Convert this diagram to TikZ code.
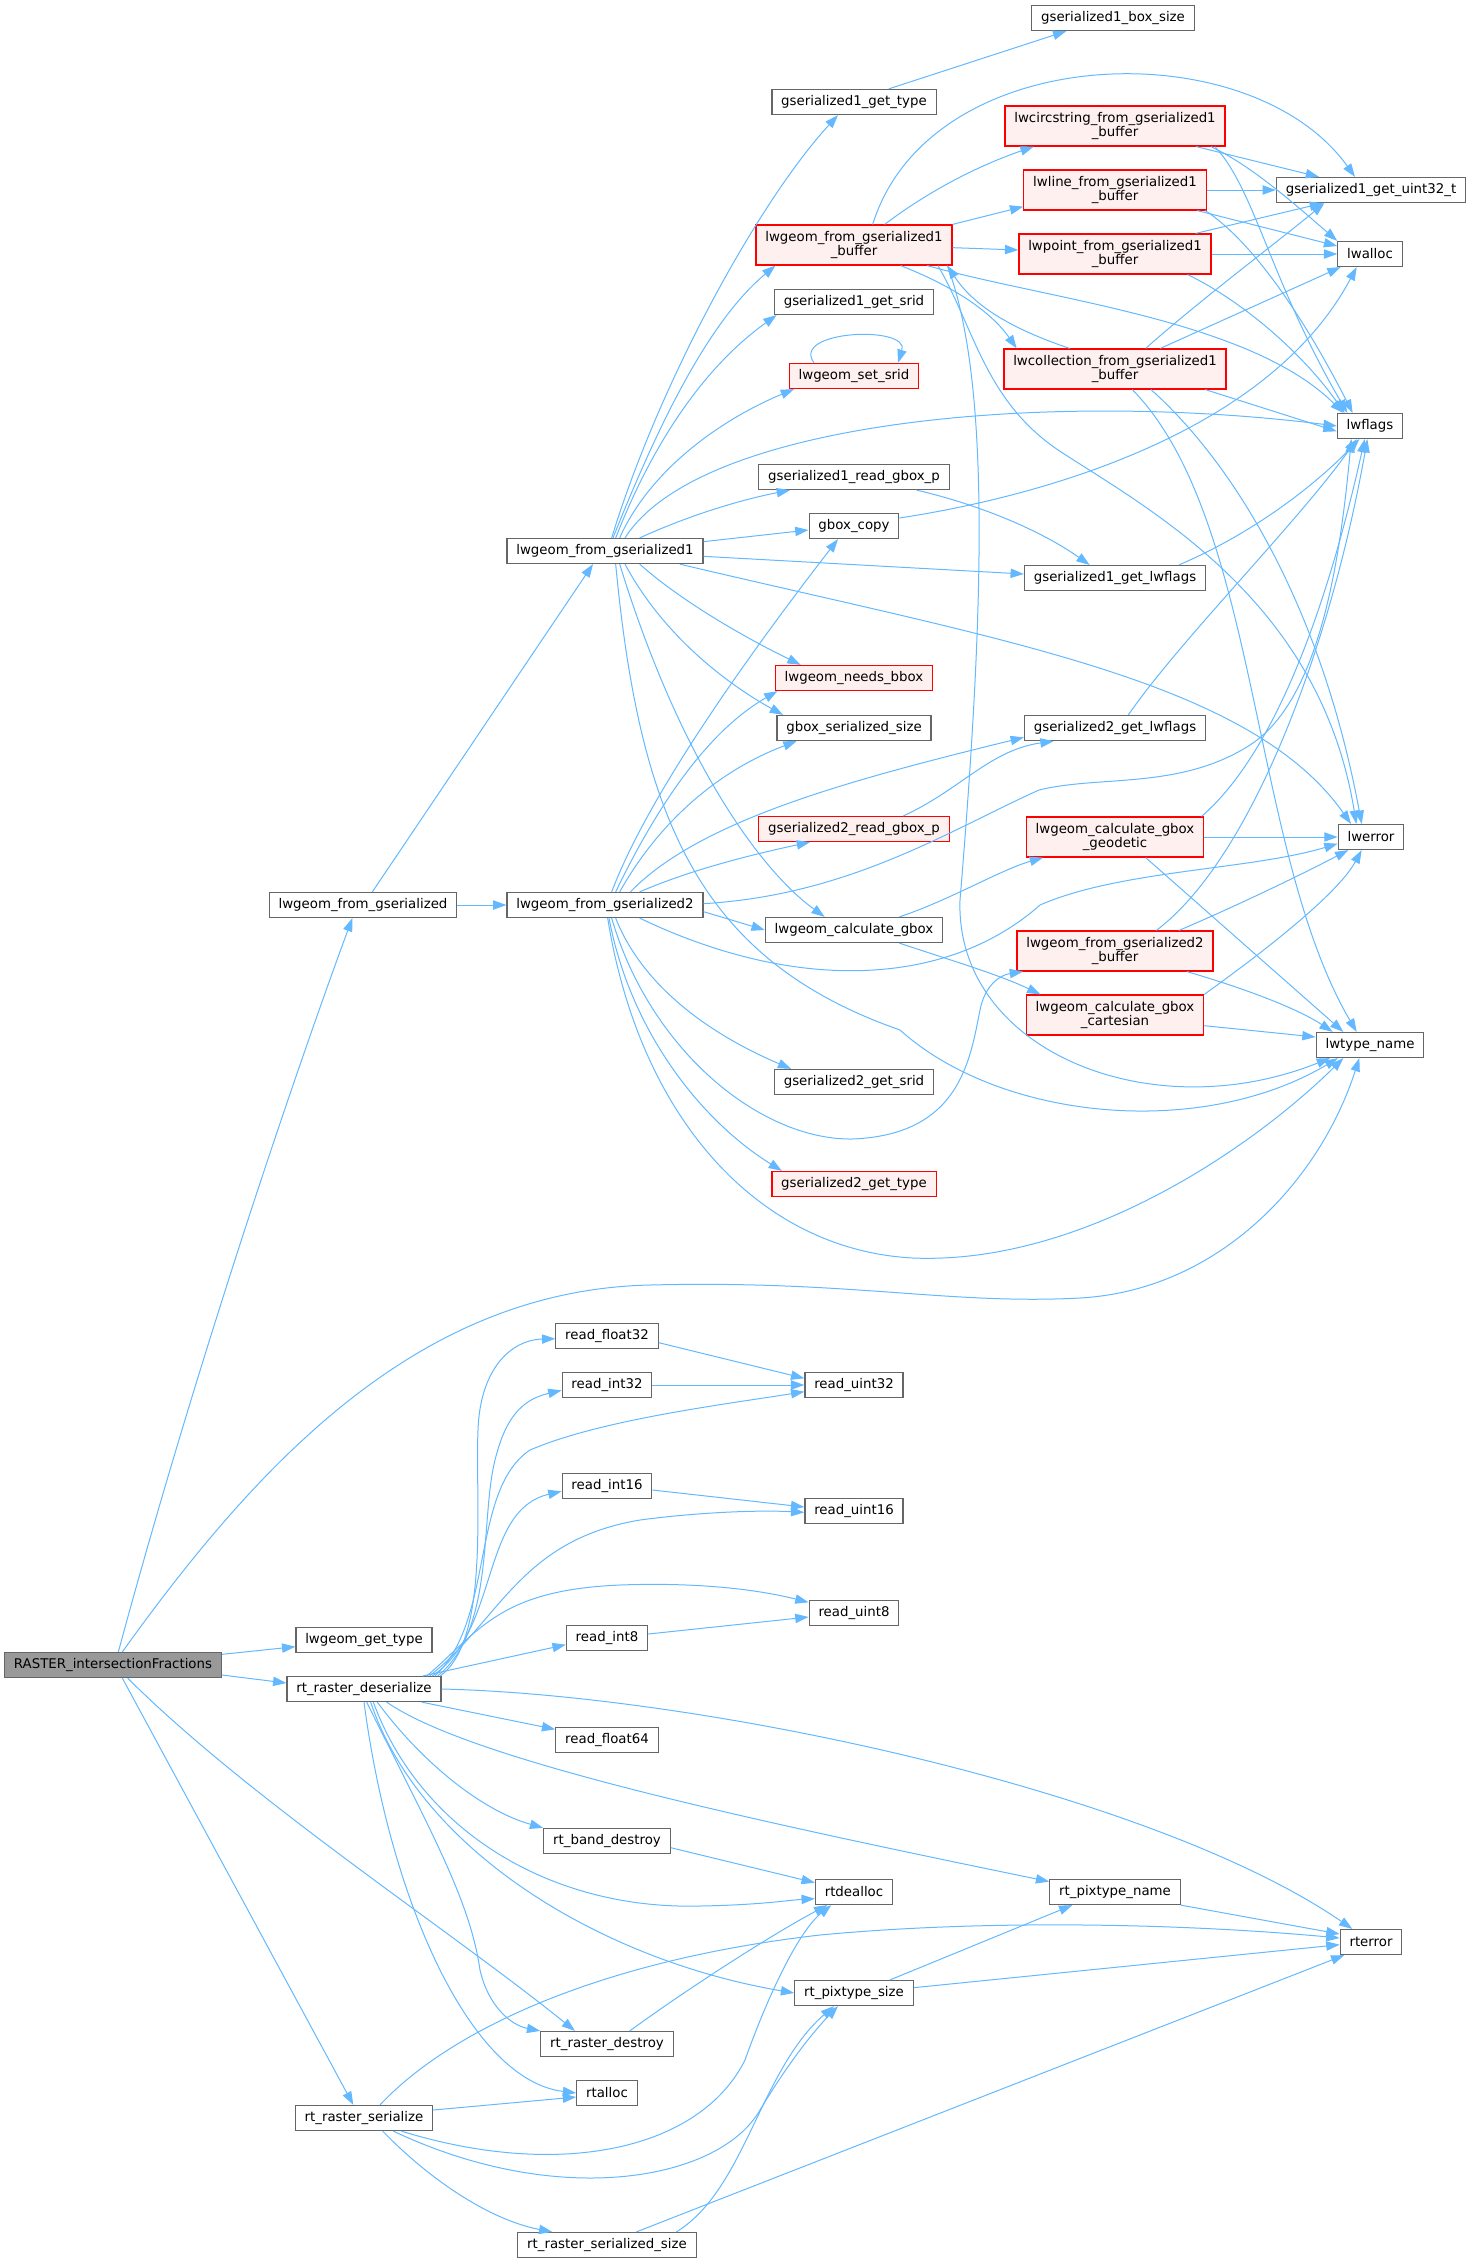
\documentclass[tikz,border=0pt]{standalone}
\usepackage{fontspec}
\setmainfont{DejaVu Sans}
\usetikzlibrary{arrows.meta}
\definecolor{edgeblue}{HTML}{63B8FF}
\definecolor{boxgray}{HTML}{666666}
\definecolor{redfill}{HTML}{FFF0F0}
\definecolor{rootgray}{HTML}{999999}
\begin{document}
\begin{tikzpicture}[x=0.75pt,y=-0.75pt,
  fn/.style={draw=boxgray,fill=white,line width=0.9pt,inner xsep=7pt,inner ysep=2pt,
    minimum height=18.75pt,font=\fontsize{10}{11}\selectfont},
  fnred/.style={fn,draw=red,fill=redfill},
  fnroot/.style={fn,fill=rootgray},
  twoline/.style={align=center,minimum height=30pt},
  call/.style={draw=edgeblue,line width=0.75pt,-{Triangle[length=10pt,width=7pt]}}]
  \useasboundingbox (0,0) rectangle (1468,2263);
  % callers
  \node[fnroot] (raster) at (113,1665) {RASTER\_intersectionFractions};
  \node[fn] (fromgs) at (363,905) {lwgeom\_from\_gserialized};
  \node[fn] (fromgs1) at (605,551) {lwgeom\_from\_gserialized1};
  \node[fn] (fromgs2) at (605,905) {lwgeom\_from\_gserialized2};
  % gserialized1 side
  \node[fn] (boxsize) at (1113,18) {gserialized1\_box\_size};
  \node[fn] (g1type) at (854,102) {gserialized1\_get\_type};
  \node[fnred,twoline] (circ) at (1115,126) {lwcircstring\_from\_gserialized1\\\_buffer};
  \node[fnred,twoline] (line) at (1115,190) {lwline\_from\_gserialized1\\\_buffer};
  \node[fn] (g1uint) at (1371,190) {gserialized1\_get\_uint32\_t};
  \node[fnred,twoline] (g1buf) at (854,245) {lwgeom\_from\_gserialized1\\\_buffer};
  \node[fnred,twoline] (point) at (1115,254) {lwpoint\_from\_gserialized1\\\_buffer};
  \node[fn] (lwalloc) at (1370,254) {lwalloc};
  \node[fn] (g1srid) at (854,302) {gserialized1\_get\_srid};
  \node[fnred,twoline] (coll) at (1115,369) {lwcollection\_from\_gserialized1\\\_buffer};
  \node[fnred] (setsrid) at (854,376) {lwgeom\_set\_srid};
  \node[fn] (lwflags) at (1370,426) {lwflags};
  \node[fn] (g1gbox) at (854,477) {gserialized1\_read\_gbox\_p};
  \node[fn] (gboxcopy) at (854,526) {gbox\_copy};
  \node[fn] (g1flags) at (1115,578) {gserialized1\_get\_lwflags};
  \node[fnred] (needsbbox) at (854,678) {lwgeom\_needs\_bbox};
  \node[fn] (gboxsize) at (854,728) {gbox\_serialized\_size};
  % gserialized2 side
  \node[fn] (g2flags) at (1115,728) {gserialized2\_get\_lwflags};
  \node[fnred] (g2gbox) at (854,829) {gserialized2\_read\_gbox\_p};
  \node[fnred,twoline] (geodetic) at (1115,837) {lwgeom\_calculate\_gbox\\\_geodetic};
  \node[fn] (lwerror) at (1371,837) {lwerror};
  \node[fn] (calcgbox) at (854,930) {lwgeom\_calculate\_gbox};
  \node[fnred,twoline] (g2buf) at (1115,951) {lwgeom\_from\_gserialized2\\\_buffer};
  \node[fnred,twoline] (cartesian) at (1115,1015) {lwgeom\_calculate\_gbox\\\_cartesian};
  \node[fn] (typename) at (1370,1045) {lwtype\_name};
  \node[fn] (g2srid) at (854,1082) {gserialized2\_get\_srid};
  \node[fnred] (g2type) at (854,1184) {gserialized2\_get\_type};
  % raster side
  \node[fn] (rf32) at (607,1336) {read\_float32};
  \node[fn] (ri32) at (607,1385) {read\_int32};
  \node[fn] (ru32) at (854,1385) {read\_uint32};
  \node[fn] (ri16) at (607,1486) {read\_int16};
  \node[fn] (ru16) at (854,1511) {read\_uint16};
  \node[fn] (ru8) at (854,1613) {read\_uint8};
  \node[fn] (ri8) at (607,1638) {read\_int8};
  \node[fn] (gettype) at (364,1640) {lwgeom\_get\_type};
  \node[fn] (deser) at (364,1689) {rt\_raster\_deserialize};
  \node[fn] (rf64) at (607,1740) {read\_float64};
  \node[fn] (banddestroy) at (607,1841) {rt\_band\_destroy};
  \node[fn] (rtdealloc) at (854,1892) {rtdealloc};
  \node[fn] (pixname) at (1115,1892) {rt\_pixtype\_name};
  \node[fn] (rterror) at (1371,1942) {rterror};
  \node[fn] (pixsize) at (854,1993) {rt\_pixtype\_size};
  \node[fn] (rdestroy) at (607,2044) {rt\_raster\_destroy};
  \node[fn] (rtalloc) at (607,2093) {rtalloc};
  \node[fn] (serialize) at (364,2118) {rt\_raster\_serialize};
  \node[fn] (sersize) at (607,2245) {rt\_raster\_serialized\_size};

  % RASTER_intersectionFractions
  \draw[call] ([xshift=4pt]raster.north) .. controls (200,1350) and (300,1060) .. ([xshift=-8pt]fromgs.south);
  \draw[call] ([xshift=7pt]raster.north) .. controls (260,1460) and (420,1290) .. (650,1285) .. controls (850,1280) and (950,1305) .. (1080,1298) .. controls (1220,1290) and (1320,1180) .. ([xshift=-8pt]typename.south);
  \draw[call] ([yshift=8pt]raster.east) -- ([yshift=-5pt]gettype.west);
  \draw[call] ([yshift=-7.5pt]raster.east) -- ([yshift=4.5pt]deser.west);
  \draw[call] ([xshift=11pt]raster.south) .. controls (250,1800) and (450,1930) .. ([xshift=-24pt]rdestroy.north);
  \draw[call] ([xshift=7pt]raster.south) -- ([xshift=-8pt]serialize.north);

  % lwgeom_from_gserialized
  \draw[call] (fromgs.east) -- (fromgs2.west);
  \draw[call] ([xshift=7pt]fromgs.north) -- ([xshift=-9pt]fromgs1.south);

  % lwgeom_from_gserialized1
  \draw[call] ([xshift=5pt]fromgs1.north) .. controls (660,380) and (760,200) .. ([xshift=-12pt]g1type.south);
  \draw[call] ([xshift=6pt]fromgs1.north) .. controls (660,420) and (710,320) .. ([xshift=15pt]g1buf.south west);
  \draw[call] ([xshift=8pt]fromgs1.north) .. controls (650,450) and (700,370) .. ([xshift=2pt]g1srid.south west);
  \draw[call] ([xshift=11pt]fromgs1.north) .. controls (650,470) and (720,420) .. ([xshift=4pt]setsrid.south west);
  \draw[call] ([xshift=15pt]fromgs1.north) .. controls (700,420) and (1050,390) .. (lwflags.west);
  \draw[call] ([xshift=26pt]fromgs1.north) .. controls (690,515) and (740,500) .. ([xshift=-48pt]g1gbox.south);
  \draw[call] ([yshift=7pt]fromgs1.east) -- ([yshift=-3pt]gboxcopy.west);
  \draw[call] ([yshift=-4pt]fromgs1.east) -- ([yshift=3pt]g1flags.west);
  \draw[call] ([xshift=56pt]fromgs1.south) .. controls (1000,640) and (1250,680) .. ([xshift=-15pt]lwerror.north);
  \draw[call] ([xshift=26pt]fromgs1.south) .. controls (680,600) and (740,635) .. ([xshift=-40pt]needsbbox.north);
  \draw[call] ([xshift=15pt]fromgs1.south) .. controls (660,630) and (720,680) .. ([xshift=5pt]gboxsize.north west);
  \draw[call] ([xshift=11pt]fromgs1.south) .. controls (680,760) and (760,870) .. ([xshift=-22pt]calcgbox.north);
  \draw[call] ([xshift=8pt]fromgs1.south) .. controls (640,820) and (700,960) .. (900,1030) .. controls (1000,1120) and (1200,1140) .. ([xshift=-24pt]typename.south);

  % lwgeom_from_gserialized2
  \draw[call] ([xshift=5pt]fromgs2.north) .. controls (650,790) and (760,640) .. ([xshift=-12pt]gboxcopy.south);
  \draw[call] ([xshift=8pt]fromgs2.north) .. controls (660,800) and (710,730) .. ([xshift=2pt]needsbbox.south west);
  \draw[call] ([xshift=11pt]fromgs2.north) .. controls (660,820) and (720,770) .. ([xshift=-43pt]gboxsize.south);
  \draw[call] ([xshift=19pt]fromgs2.north) .. controls (700,820) and (850,780) .. ([yshift=-7pt]g2flags.west);
  \draw[call] ([xshift=26pt]fromgs2.north) .. controls (690,870) and (750,855) .. ([xshift=-33pt]g2gbox.south);
  \draw[call] ([yshift=1pt]fromgs2.east) .. controls (850,895) and (950,830) .. (1039,790) .. controls (1100,775) and (1180,790) .. (1250,745) .. controls (1320,700) and (1340,560) .. ([xshift=-14pt]lwflags.south);
  \draw[call] ([xshift=26pt]fromgs2.south) .. controls (800,995) and (950,985) .. (1040,905) .. controls (1120,870) and (1250,870) .. ([yshift=-5pt]lwerror.west);
  \draw[call] ([yshift=-5pt]fromgs2.east) -- (calcgbox.west);
  \draw[call] ([xshift=5pt]fromgs2.south) .. controls (650,1050) and (760,1140) .. (852,1139) .. controls (960,1135) and (970,1060) .. (980,1010) .. controls (985,985) and (1000,975) .. ([xshift=5pt]g2buf.south west);
  \draw[call] ([xshift=8pt]fromgs2.south) .. controls (640,980) and (700,1030) .. ([xshift=13pt]g2srid.north west);
  \draw[call] ([xshift=3pt]fromgs2.south) .. controls (630,1030) and (700,1120) .. ([xshift=8pt]g2type.north west);
  \draw[call] ([xshift=2pt]fromgs2.south) .. controls (640,1120) and (760,1250) .. (913,1258) .. controls (1080,1265) and (1250,1150) .. ([xshift=-20pt]typename.south);

  % lwgeom_from_gserialized1_buffer
  \draw[call] ([xshift=26pt]g1type.north) -- ([xshift=-35pt]boxsize.south);
  \draw[call] ([xshift=14pt]g1buf.north) .. controls (930,40) and (1250,30) .. ([xshift=-12pt]g1uint.north);
  \draw[call] ([xshift=23pt]g1buf.north) .. controls (930,190) and (980,165) .. ([xshift=22pt]circ.south west);
  \draw[call] (g1buf.north east) -- ([yshift=3pt]line.south west);
  \draw[call] ([yshift=-2pt]g1buf.east) -- ([yshift=3pt]point.west);
  \draw[call] ([xshift=35pt]g1buf.south) .. controls (950,285) and (990,310) .. ([xshift=10pt]coll.north west);
  \draw[call] ([xshift=55pt]g1buf.south) .. controls (1050,300) and (1250,320) .. ([xshift=-20pt]lwflags.north);
  \draw[call] ([xshift=63pt]g1buf.south) .. controls (975,330) and (985,400) .. (1058,450) .. controls (1150,510) and (1320,600) .. ([xshift=-11pt]lwerror.north);
  \draw[call] ([xshift=70pt]g1buf.south) .. controls (990,380) and (985,600) .. (960,900) .. controls (955,1050) and (1150,1130) .. ([xshift=-30pt]typename.south);

  % the four buffer readers
  \draw[call] ([xshift=-22pt]circ.south east) -- ([xshift=-39pt]g1uint.north);
  \draw[call] ([xshift=-11pt]circ.south east) .. controls (1250,165) and (1290,200) .. (lwalloc.north west);
  \draw[call] ([xshift=-8pt]circ.south east) .. controls (1255,190) and (1270,280) .. ([xshift=-17pt]lwflags.north);
  \draw[call] (line.east) -- (g1uint.west);
  \draw[call] ([xshift=-7pt]line.south east) -- ([yshift=6pt]lwalloc.west);
  \draw[call] ([xshift=-1pt]line.south east) .. controls (1250,240) and (1300,310) .. ([xshift=-13pt]lwflags.north);
  \draw[call] ([xshift=-12pt]point.north east) -- ([xshift=-36pt]g1uint.south);
  \draw[call] (point.east) -- (lwalloc.west);
  \draw[call] ([xshift=-18pt]point.south east) .. controls (1240,300) and (1300,350) .. ([xshift=-19pt]lwflags.north);
  \draw[call] ([xshift=-34pt]coll.north) .. controls (1000,325) and (970,300) .. ([xshift=-4pt]g1buf.south east);
  \draw[call] ([xshift=23pt]coll.north) .. controls (1200,300) and (1280,240) .. ([xshift=-35pt]g1uint.south);
  \draw[call] ([xshift=34pt]coll.north) -- ([xshift=-22pt]lwalloc.south);
  \draw[call] ([xshift=-16pt]coll.south east) -- ([yshift=-4pt]lwflags.west);
  \draw[call] ([xshift=27pt]coll.south) .. controls (1230,460) and (1320,600) .. ([xshift=-7pt]lwerror.north);
  \draw[call] ([xshift=13pt]coll.south) .. controls (1260,520) and (1250,850) .. ([xshift=-10pt]typename.north);

  % helpers
  \draw[call] ([xshift=-30pt]setsrid.north) .. controls (790,330) and (910,325) .. ([xshift=33pt]setsrid.north);
  \draw[call] ([xshift=47pt]g1gbox.south) .. controls (980,505) and (1040,530) .. ([xshift=-19pt]g1flags.north);
  \draw[call] ([yshift=6pt]gboxcopy.east) .. controls (1050,495) and (1270,430) .. ([xshift=-10pt]lwalloc.south);
  \draw[call] ([xshift=48pt]g1flags.north) .. controls (1260,530) and (1320,480) .. ([xshift=-8pt]lwflags.south);
  \draw[call] ([xshift=10pt]g2flags.north) .. controls (1180,640) and (1300,520) .. ([xshift=-10pt]lwflags.south);
  \draw[call] ([xshift=37pt]g2gbox.north) .. controls (960,790) and (990,750) .. ([xshift=-46pt]g2flags.south);
  \draw[call] ([xshift=-2pt]geodetic.north east) .. controls (1290,740) and (1340,550) .. ([xshift=-4pt]lwflags.south);
  \draw[call] (geodetic.east) -- (lwerror.west);
  \draw[call] ([xshift=23pt]geodetic.south) -- ([xshift=-20pt]typename.north);
  \draw[call] ([xshift=34pt]calcgbox.north) .. controls (950,900) and (1000,870) .. ([xshift=13pt]geodetic.south west);
  \draw[call] ([xshift=34pt]calcgbox.south) .. controls (950,960) and (1000,975) .. ([xshift=11pt]cartesian.north west);
  \draw[call] ([xshift=31pt]g2buf.north) .. controls (1250,860) and (1330,650) .. ([xshift=-2pt]lwflags.south);
  \draw[call] ([xshift=48pt]g2buf.north) .. controls (1250,900) and (1310,870) .. ([xshift=-17pt]lwerror.south);
  \draw[call] ([xshift=-20pt]g2buf.south east) .. controls (1250,990) and (1300,1010) .. ([xshift=-28pt]typename.north);
  \draw[call] (cartesian.north east) .. controls (1280,940) and (1340,890) .. ([xshift=-7pt]lwerror.south);
  \draw[call] ([yshift=-8pt]cartesian.east) -- ([yshift=6pt]typename.west);

  % rt_raster_deserialize
  \draw[call] ([xshift=-1pt]deser.north east) .. controls (490,1640) and (475,1500) .. (478,1430) .. controls (480,1370) and (510,1340) .. ([yshift=-2pt]rf32.west);
  \draw[call] ([xshift=-3pt]deser.north east) .. controls (495,1630) and (480,1520) .. (495,1460) .. controls (505,1420) and (520,1400) .. ([yshift=-4pt]ri32.west);
  \draw[call] ([xshift=-5pt]deser.north east) .. controls (495,1620) and (470,1490) .. (530,1450) .. controls (600,1420) and (720,1405) .. ([yshift=-5pt]ru32.west);
  \draw[call] ([xshift=-7pt]deser.north east) .. controls (500,1630) and (480,1510) .. ([yshift=-4pt]ri16.west);
  \draw[call] ([xshift=-9pt]deser.north east) .. controls (500,1620) and (520,1540) .. (640,1520) .. controls (700,1512) and (760,1510) .. ([yshift=-1pt]ru16.west);
  \draw[call] ([xshift=-11pt]deser.north east) .. controls (480,1630) and (500,1590) .. (620,1585) .. controls (700,1582) and (760,1590) .. ([yshift=8pt]ru8.west);
  \draw[call] ([xshift=-14pt]deser.north east) -- ([yshift=-5pt]ri8.west);
  \draw[call] ([xshift=-15pt]deser.south east) -- ([yshift=8pt]rf64.west);
  \draw[call] (deser.east) .. controls (700,1695) and (1150,1790) .. ([xshift=-14pt]rterror.north);
  \draw[call] ([xshift=17pt]deser.south) .. controls (470,1760) and (750,1820) .. ([yshift=-2pt]pixname.north west);
  \draw[call] ([xshift=10pt]deser.south) .. controls (420,1760) and (480,1810) .. (banddestroy.north west);
  \draw[call] ([xshift=7pt]deser.south) .. controls (420,1830) and (550,1910) .. (700,1906) .. controls (760,1905) and (790,1900) .. ([yshift=-5pt]rtdealloc.west);
  \draw[call] ([xshift=5pt]deser.south) .. controls (420,1850) and (600,1960) .. (pixsize.west);
  \draw[call] ([xshift=2pt]deser.south) .. controls (430,1830) and (470,1900) .. (480,1970) .. controls (488,2005) and (510,2025) .. (rdestroy.north west);
  \draw[call] (deser.south) .. controls (390,1900) and (470,2080) .. (rtalloc.west);

  % rt_raster_serialize
  \draw[call] ([yshift=6pt]serialize.east) -- ([yshift=-3pt]rtalloc.west);
  \draw[call] ([xshift=12pt]serialize.north) .. controls (450,2030) and (600,1960) .. (820,1935) .. controls (1000,1918) and (1200,1925) .. ([yshift=3pt]rterror.west);
  \draw[call] ([xshift=28pt]serialize.south) .. controls (560,2180) and (700,2150) .. (745,2060) .. controls (770,1990) and (800,1930) .. ([xshift=-17pt]rtdealloc.south);
  \draw[call] ([xshift=22pt]serialize.south) .. controls (560,2210) and (720,2180) .. (760,2110) .. controls (790,2060) and (815,2030) .. ([xshift=-12pt]pixsize.south);
  \draw[call] ([xshift=14pt]serialize.south) .. controls (430,2180) and (490,2220) .. ([xshift=-41pt]sersize.north);
  \draw[call] ([xshift=52pt]sersize.north) .. controls (745,2190) and (760,2070) .. ([xshift=-15pt]pixsize.south);
  \draw[call] ([xshift=22pt]sersize.north) -- ([xshift=-20pt]rterror.south);

  % leaves
  \draw[call] ([xshift=27pt]pixsize.north) -- ([xshift=-32pt]pixname.south);
  \draw[call] ([yshift=4pt]pixsize.east) -- ([yshift=-2pt]rterror.west);
  \draw[call] (pixname.south east) -- ([yshift=6pt]rterror.west);
  \draw[call] ([yshift=-5pt]rf32.east) -- ([yshift=5pt]ru32.west);
  \draw[call] (ri32.east) -- (ru32.west);
  \draw[call] ([yshift=-3pt]ri16.east) -- ([yshift=3pt]ru16.west);
  \draw[call] ([yshift=3pt]ri8.east) -- ([yshift=-3pt]ru8.west);
  \draw[call] ([yshift=-5pt]banddestroy.east) -- ([yshift=7pt]rtdealloc.west);
  \draw[call] ([xshift=17pt]rdestroy.north) .. controls (700,1980) and (780,1930) .. ([xshift=-20pt]rtdealloc.south);
\end{tikzpicture}
\end{document}
